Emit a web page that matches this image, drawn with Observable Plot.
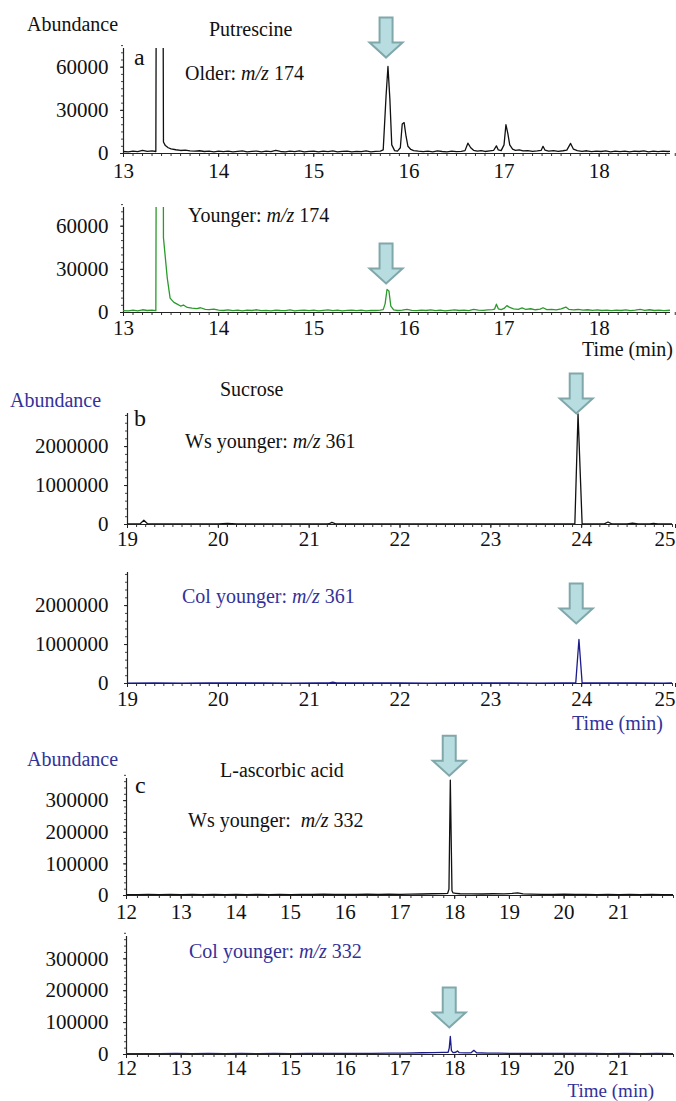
<!DOCTYPE html>
<html><head><meta charset="utf-8">
<script src="https://cdn.jsdelivr.net/npm/d3@7"></script>
<script src="https://cdn.jsdelivr.net/npm/@observablehq/plot@0.6"></script>
<style>
html,body{margin:0;padding:0;background:#fff;overflow:hidden;}
#root{position:relative;width:676px;height:1101px;font-family:"Liberation Serif","Times New Roman",serif;color:#111;}
#root svg{position:absolute;left:0;}
.lbl{position:absolute;font-size:20px;line-height:14px;white-space:nowrap;}
.big{font-size:24px;line-height:18px;}
.small{font-size:19px;}
.blue{color:#32329a;}
</style></head><body><div id="root"></div>
<script>
// ---- tick labels ----
const putrescineTimeTicks = [13, 14, 15, 16, 17, 18];
const sucroseTimeTicks = [19, 20, 21, 22, 23, 24, 25];
const ascorbicTimeTicks = [12, 13, 14, 15, 16, 17, 18, 19, 20, 21];
const putrescineAbundTicks = [0, 30000, 60000];
const sucroseAbundTicks = [0, 1000000, 2000000];
const ascorbicAbundTicks = [0, 100000, 200000, 300000];

// ---- traces [time (min), abundance] ----
const olderPutrescine = [[13.00,1400],[13.05,1200],[13.10,1700],[13.15,1300],[13.20,2100],[13.25,1500],[13.30,1800],[13.34,1400],[13.355,400000],[13.405,400000],[13.42,8000],[13.44,5500],[13.47,4000],[13.50,3200],[13.55,2600],[13.60,2100],[13.65,2300],[13.70,1800],[13.75,1600],[13.80,1900],[13.85,1400],[13.90,1600],[13.95,1200],[14.00,1700],[14.05,1300],[14.10,1600],[14.15,1100],[14.20,1500],[14.25,1800],[14.30,1200],[14.35,1500],[14.40,1700],[14.45,1100],[14.50,1600],[14.55,1300],[14.60,2100],[14.65,1400],[14.70,1200],[14.75,1600],[14.80,1300],[14.85,1800],[14.90,1200],[14.95,1500],[15.00,1700],[15.05,1100],[15.10,1600],[15.15,1300],[15.20,1800],[15.25,1200],[15.30,1500],[15.35,1700],[15.40,1100],[15.45,1500],[15.50,1300],[15.55,1800],[15.60,1200],[15.65,1500],[15.70,1600],[15.73,2500],[15.76,40000],[15.78,60500],[15.80,38000],[15.82,6000],[15.85,2000],[15.88,1700],[15.91,4000],[15.93,20500],[15.95,21500],[15.97,12000],[15.99,5000],[16.02,2800],[16.05,2000],[16.10,1600],[16.15,1300],[16.20,1600],[16.25,1200],[16.30,1800],[16.35,1400],[16.40,1200],[16.45,1600],[16.50,1300],[16.55,1500],[16.59,2000],[16.62,7200],[16.65,4000],[16.68,2200],[16.72,1600],[16.76,2000],[16.80,1400],[16.85,1800],[16.89,2100],[16.92,5300],[16.94,2500],[16.97,2000],[17.00,6000],[17.02,20000],[17.04,14000],[17.06,6000],[17.09,3000],[17.12,2200],[17.16,2500],[17.20,1800],[17.25,2000],[17.30,1500],[17.35,1800],[17.39,2100],[17.41,5000],[17.43,2400],[17.47,1700],[17.52,2000],[17.57,1500],[17.62,1900],[17.66,2300],[17.70,7000],[17.73,3000],[17.77,2000],[17.82,1500],[17.87,1900],[17.92,1300],[17.97,1700],[18.02,1400],[18.07,1800],[18.12,1200],[18.17,1600],[18.22,1300],[18.27,1700],[18.32,1200],[18.37,1600],[18.42,1400],[18.47,1800],[18.52,1200],[18.57,1600],[18.62,1300],[18.67,1700],[18.72,1400],[18.75,1500]];

const youngerPutrescine = [[13.00,1300],[13.05,1100],[13.10,1600],[13.15,1200],[13.20,1900],[13.25,1400],[13.30,1700],[13.34,1300],[13.355,400000],[13.41,400000],[13.42,52000],[13.46,24000],[13.49,10000],[13.53,7000],[13.56,6000],[13.60,4500],[13.63,5200],[13.67,3500],[13.72,3000],[13.77,2700],[13.81,3300],[13.86,2200],[13.90,2000],[13.95,2300],[14.00,1700],[14.05,1400],[14.10,1800],[14.15,1300],[14.20,1600],[14.25,1200],[14.30,1700],[14.35,1400],[14.40,1900],[14.45,1300],[14.50,1500],[14.55,1200],[14.60,1700],[14.65,1400],[14.70,1300],[14.75,1800],[14.80,1200],[14.85,1500],[14.90,1700],[14.95,1300],[15.00,1600],[15.05,1200],[15.10,1500],[15.15,1800],[15.20,1300],[15.25,1600],[15.30,1200],[15.35,1500],[15.40,1700],[15.45,1300],[15.50,1600],[15.55,1200],[15.60,1500],[15.65,1400],[15.70,1700],[15.73,2000],[15.75,6000],[15.77,16000],[15.79,15000],[15.81,4500],[15.84,1800],[15.88,1400],[15.93,1700],[15.98,2200],[16.03,1500],[16.08,1300],[16.13,1700],[16.18,1400],[16.23,1800],[16.28,1300],[16.33,1600],[16.38,1200],[16.43,1500],[16.48,1800],[16.53,1400],[16.58,1600],[16.63,1300],[16.68,2200],[16.73,1700],[16.78,1500],[16.83,1800],[16.88,2000],[16.90,2300],[16.92,5800],[16.94,2600],[16.97,2000],[17.00,2800],[17.03,4800],[17.06,3500],[17.10,2500],[17.15,2200],[17.19,3200],[17.23,2100],[17.28,2600],[17.33,1900],[17.38,2300],[17.41,3300],[17.45,2000],[17.50,2200],[17.55,1800],[17.60,2500],[17.65,3800],[17.68,2200],[17.73,1800],[17.78,2100],[17.83,1600],[17.88,1900],[17.93,1500],[17.98,1800],[18.03,1400],[18.08,1700],[18.13,1300],[18.18,1600],[18.23,1400],[18.28,1800],[18.33,1300],[18.38,1600],[18.43,2100],[18.48,1500],[18.53,1900],[18.58,1400],[18.63,1700],[18.68,1300],[18.75,1600]];

const wsSucrose = [[19.00,15000],[19.10,18000],[19.14,20000],[19.18,110000],[19.22,20000],[19.40,15000],[19.60,17000],[19.80,14000],[20.00,16000],[20.10,30000],[20.20,15000],[20.50,16000],[20.75,14000],[21.00,17000],[21.20,15000],[21.22,20000],[21.25,55000],[21.29,18000],[21.60,15000],[21.80,16000],[22.00,14000],[22.20,17000],[22.40,15000],[22.60,16000],[22.80,14000],[23.00,16000],[23.20,15000],[23.40,17000],[23.60,15000],[23.80,16000],[23.925,18000],[23.96,2840000],[24.005,18000],[24.10,17000],[24.25,16000],[24.29,65000],[24.33,17000],[24.50,16000],[24.56,38000],[24.62,16000],[24.75,17000],[24.79,30000],[24.84,16000],[25.00,15000]];

const colSucrose = [[19.00,12000],[19.30,14000],[19.60,12000],[19.90,15000],[20.20,13000],[20.50,14000],[20.80,12000],[21.10,15000],[21.22,14000],[21.26,32000],[21.30,14000],[21.70,13000],[22.00,15000],[22.30,12000],[22.60,14000],[22.90,13000],[23.20,15000],[23.50,12000],[23.80,14000],[23.935,15000],[23.97,1130000],[24.005,15000],[24.30,13000],[24.60,14000],[24.90,12000],[25.00,13000]];

const wsAscorbic = [[12.0,3000],[12.2,2500],[12.4,3500],[12.6,2800],[12.8,3200],[13.0,2600],[13.2,3400],[13.4,2900],[13.6,3600],[13.8,2700],[14.0,3300],[14.2,2800],[14.4,3500],[14.6,3000],[14.8,3800],[15.0,2900],[15.2,3400],[15.4,3100],[15.6,3900],[15.8,3200],[16.0,3600],[16.2,3300],[16.4,4000],[16.6,3500],[16.8,4200],[17.0,3800],[17.2,4500],[17.4,4800],[17.6,5500],[17.8,6000],[17.87,6500],[17.895,20000],[17.92,365000],[17.95,15000],[17.97,8000],[18.02,7000],[18.1,5500],[18.3,5000],[18.5,4800],[18.7,5500],[18.9,5200],[19.05,6500],[19.15,8000],[19.25,5000],[19.4,4200],[19.6,3800],[19.8,3500],[20.0,3900],[20.2,3200],[20.4,3600],[20.6,3000],[20.8,3400],[21.0,2900],[21.2,3300],[21.4,2800],[21.6,3200],[21.8,2700],[22.0,3000]];

const colAscorbic = [[12.0,2500],[12.3,3000],[12.6,2600],[12.9,3100],[13.2,2700],[13.5,3200],[13.8,2800],[14.1,3300],[14.4,2900],[14.7,3400],[15.0,3000],[15.3,3500],[15.6,3100],[15.9,3600],[16.2,3200],[16.5,3800],[16.8,4000],[17.1,4500],[17.4,5500],[17.6,6000],[17.8,6500],[17.88,7000],[17.90,20000],[17.92,57000],[17.94,12000],[17.97,6000],[18.02,7000],[18.05,11000],[18.08,6000],[18.2,5000],[18.30,5500],[18.35,13000],[18.40,5500],[18.6,4500],[18.8,4000],[19.0,3800],[19.3,3500],[19.6,3300],[19.9,3600],[20.2,3200],[20.5,3400],[20.8,3000],[21.1,3300],[21.4,2900],[21.7,3100],[22.0,2800]];

// ---- arrow tips [time, abundance] ----
const olderArrow = [[15.76, 66700]];
const youngerArrow = [[15.76, 20200]];
const wsSucroseArrow = [[23.94, 2850000]];
const colSucroseArrow = [[23.94, 1540000]];
const wsAscorbicArrow = [[17.90, 379000]];
const colAscorbicArrow = [[17.90, 84700]];

// ---- colours ----
const black = "#111111", green = "#2a9a2a", navy = "#1c1c8c";

const blockArrow = {
  draw(ctx) {
    ctx.moveTo(0, 0);
    ctx.lineTo(16.5, -15);
    ctx.lineTo(6.5, -15);
    ctx.lineTo(6.5, -40);
    ctx.lineTo(-6.5, -40);
    ctx.lineTo(-6.5, -15);
    ctx.lineTo(-16.5, -15);
    ctx.closePath();
  }
};

function minorTicks(x0, x1, step) {
  const n = Math.round((x1 - x0) / step);
  const out = [];
  for (let i = 0; i <= n; i++) out.push(+(x0 + i * step).toFixed(6));
  return out;
}

const panels = [
  {trace: olderPutrescine, arrow: olderArrow, color: black, xDomain: [13, 18.75], yDomain: [0, 73000], xTicks: putrescineTimeTicks, yTicks: putrescineAbundTicks, xStep: 0.1, yStep: 5000, left: 123, right: 670, top: 48, bottom: 153, yPad: 12, xPad: 6},
  {trace: youngerPutrescine, arrow: youngerArrow, color: green, xDomain: [13, 18.75], yDomain: [0, 73000], xTicks: putrescineTimeTicks, yTicks: putrescineAbundTicks, xStep: 0.1, yStep: 5000, left: 123, right: 670, top: 207, bottom: 312, yPad: 12, xPad: 4},
  {trace: wsSucrose, arrow: wsSucroseArrow, color: black, xDomain: [19, 25], yDomain: [0, 2850000], xTicks: sucroseTimeTicks, yTicks: sucroseAbundTicks, xStep: 0.1, yStep: 200000, left: 127, right: 672, top: 413, bottom: 524, yPad: 16, xPad: 3},
  {trace: colSucrose, arrow: colSucroseArrow, color: navy, xDomain: [19, 25], yDomain: [0, 2850000], xTicks: sucroseTimeTicks, yTicks: sucroseAbundTicks, xStep: 0.1, yStep: 200000, left: 127, right: 672, top: 572, bottom: 683, yPad: 16, xPad: 4},
  {trace: wsAscorbic, arrow: wsAscorbicArrow, color: black, xDomain: [12, 22], yDomain: [0, 370000], xTicks: ascorbicTimeTicks, yTicks: ascorbicAbundTicks, xStep: 0.2, yStep: 20000, left: 126, right: 673, top: 778, bottom: 895, yPad: 15, xPad: 5},
  {trace: colAscorbic, arrow: colAscorbicArrow, color: navy, xDomain: [12, 22], yDomain: [0, 370000], xTicks: ascorbicTimeTicks, yTicks: ascorbicAbundTicks, xStep: 0.2, yStep: 20000, left: 126, right: 673, top: 936, bottom: 1054, yPad: 15, xPad: 2}
];

const root = document.getElementById("root");
const W = 676, MT = 22, MB = 30;

for (const p of panels) {
  const lastTick = p.xTicks[p.xTicks.length - 1];
  const edgeTick = lastTick >= p.xDomain[1] ? [lastTick] : [];
  const innerTicks = p.xTicks.filter(t => !edgeTick.includes(t));
  const svg = Plot.plot({
    width: W,
    height: MT + (p.bottom - p.top) + MB,
    marginLeft: p.left,
    marginRight: W - p.right,
    marginTop: MT,
    marginBottom: MB,
    x: {domain: p.xDomain},
    y: {domain: p.yDomain},
    style: {fontFamily: '"Liberation Serif","Times New Roman",serif', fontSize: "21px", color: "#111", background: "transparent", overflow: "visible"},
    marks: [
      Plot.axisX({ticks: minorTicks(p.xDomain[0], p.xDomain[1], p.xStep), tickSize: 3, tickFormat: () => "", label: null, stroke: "#333"}),
      Plot.axisX({ticks: innerTicks, tickSize: 4, tickPadding: p.xPad, tickFormat: d => String(d), label: null, stroke: "#222"}),
      Plot.axisX({ticks: edgeTick, tickSize: 4, tickPadding: p.xPad, tickFormat: d => String(d), label: null, stroke: "#222", textAnchor: "end", dx: 3}),
      Plot.axisY({ticks: minorTicks(p.yDomain[0], p.yDomain[1], p.yStep), tickSize: 2, tickFormat: () => "", label: null, stroke: "#444"}),
      Plot.axisY({ticks: p.yTicks, tickSize: 3, tickPadding: p.yPad, tickFormat: d => String(d), label: null, stroke: "#222"}),
      Plot.ruleX([p.xDomain[0]], {stroke: "#222", strokeWidth: 1.2}),
      Plot.ruleY([0], {stroke: "#222", strokeWidth: 1.2}),
      Plot.line(p.trace, {x: d => d[0], y: d => d[1], stroke: p.color, strokeWidth: 1.3, clip: true}),
      Plot.dot(p.arrow, {x: d => d[0], y: d => d[1], symbol: blockArrow, r: 5, fill: "#b7dde1", stroke: "#80a7a9", strokeWidth: 2})
    ]
  });
  svg.style.top = (p.top - MT) + "px";
  root.appendChild(svg);
}

// ---- annotations ----
const labels = [
  {html: "Abundance", left: 27, top: 17},
  {html: "Putrescine", left: 209, top: 22},
  {html: "a", left: 134, top: 48, cls: "big"},
  {html: "Older: <i>m/z</i> 174", left: 185, top: 66},
  {html: "Younger: <i>m/z</i> 174", left: 188, top: 208},
  {html: "Time (min)", right: 3, top: 342},
  {html: "Sucrose", left: 220, top: 382},
  {html: "Abundance", left: 10, top: 393, cls: "blue"},
  {html: "b", left: 134, top: 409, cls: "big"},
  {html: "Ws younger: <i>m/z</i> 361", left: 185, top: 434},
  {html: "Col younger: <i>m/z</i> 361", left: 182, top: 589, cls: "blue"},
  {html: "Time (min)", right: 13, top: 716, cls: "blue"},
  {html: "Abundance", left: 27, top: 752, cls: "blue"},
  {html: "L-ascorbic acid", left: 220, top: 763},
  {html: "c", left: 135, top: 776, cls: "big"},
  {html: "Ws younger:&nbsp; <i>m/z</i> 332", left: 188, top: 813},
  {html: "Col younger: <i>m/z</i> 332", left: 189, top: 944, cls: "blue"},
  {html: "Time (min)", right: 22, top: 1083.5, cls: "blue small"}
];
for (const l of labels) {
  const d = document.createElement("div");
  d.className = "lbl" + (l.cls ? " " + l.cls : "");
  d.innerHTML = l.html;
  if (l.left != null) d.style.left = l.left + "px";
  if (l.right != null) d.style.right = l.right + "px";
  d.style.top = l.top + "px";
  root.appendChild(d);
}
</script></body></html>
